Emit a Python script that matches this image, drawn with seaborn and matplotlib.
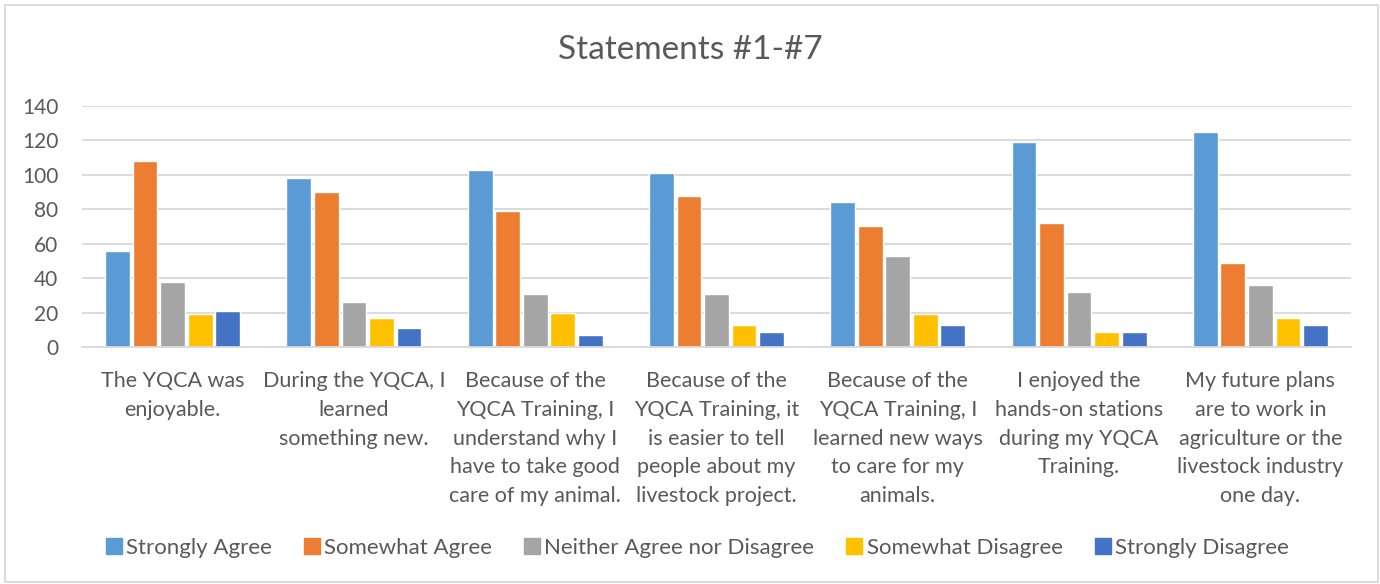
import matplotlib
matplotlib.use("Agg")
import matplotlib.pyplot as plt
import seaborn as sns
import pandas as pd
from matplotlib.patches import Rectangle
from matplotlib.lines import Line2D

categories = [
    "The YQCA was\nenjoyable.",
    "During the YQCA, I\nlearned\nsomething new.",
    "Because of the\nYQCA Training, I\nunderstand why I\nhave to take good\ncare of my animal.",
    "Because of the\nYQCA Training, it\nis easier to tell\npeople about my\nlivestock project.",
    "Because of the\nYQCA Training, I\nlearned new ways\nto care for my\nanimals.",
    "I enjoyed the\nhands-on stations\nduring my YQCA\nTraining.",
    "My future plans\nare to work in\nagriculture or the\nlivestock industry\none day.",
]
series_names = ["Strongly Agree", "Somewhat Agree", "Neither Agree nor Disagree",
                "Somewhat Disagree", "Strongly Disagree"]
strongly_agree = [56, 98, 103, 101, 84, 119, 125]
somewhat_agree = [108, 90, 79, 88, 70, 72, 49]
neither = [38, 26, 31, 31, 53, 32, 36]
somewhat_disagree = [19, 17, 20, 13, 19, 9, 17]
strongly_disagree = [21, 11, 7, 9, 13, 9, 13]
yticks = [0, 20, 40, 60, 80, 100, 120, 140]
title = "Statements #1-#7"

colors = ["#5B9BD5", "#ED7D31", "#A5A5A5", "#FFC000", "#4472C4"]
text_color = "#595959"

rows = []
for name, vals in zip(series_names, [strongly_agree, somewhat_agree, neither,
                                     somewhat_disagree, strongly_disagree]):
    for c, v in zip(categories, vals):
        rows.append({"Category": c, "Series": name, "Value": v})
df = pd.DataFrame(rows)

sns.set_theme(style="white")
plt.rcParams['font.family'] = ['Lato', 'DejaVu Sans']

fig = plt.figure(figsize=(13.8, 5.84), dpi=100)
ax = fig.add_axes([82/1380, 1-347/584, 1269/1380, 241/584])

sns.barplot(data=df, x="Category", y="Value", hue="Series", order=categories,
            hue_order=series_names, palette=colors, width=0.76, gap=0.1,
            ax=ax, legend=False, saturation=1)

ax.set_ylim(0, 140)
ax.set_yticks(yticks)
ax.set_xlim(-0.5, len(categories) - 0.5)
ax.yaxis.grid(True, color="#D9D9D9", linewidth=1.3)
ax.set_axisbelow(True)
for s in ["top", "right", "left"]:
    ax.spines[s].set_visible(False)
ax.spines["bottom"].set_color("#D9D9D9")
ax.spines["bottom"].set_linewidth(1.3)
ax.set_xlabel("")
ax.set_ylabel("")
ax.tick_params(axis="both", length=0, labelcolor=text_color, labelsize=15)
ax.tick_params(axis="y", pad=17)
ax.tick_params(axis="x", pad=17)
for lbl in ax.get_xticklabels():
    lbl.set_linespacing(1.56)
    lbl.set_fontsize(15.5)

fig.text(0.5, 1-50/584, title, ha="center", va="center", fontsize=24, color=text_color)

handles = [Line2D([0], [0], marker="s", linestyle="", markersize=11,
                  markerfacecolor=c, markeredgecolor=c) for c in colors]
fig.legend(handles, series_names, loc="center", bbox_to_anchor=(0.505, 1-548/584),
           ncol=5, frameon=False, fontsize=16, labelcolor=text_color,
           handletextpad=0.15, columnspacing=1.4, handlelength=0.8)

fig.patches.append(Rectangle((5/1380, 2/584), 1373/1380, 577/584, transform=fig.transFigure,
                             fill=False, edgecolor="#D9D9D9", linewidth=1.3))

fig.savefig("out.png", dpi=100)
